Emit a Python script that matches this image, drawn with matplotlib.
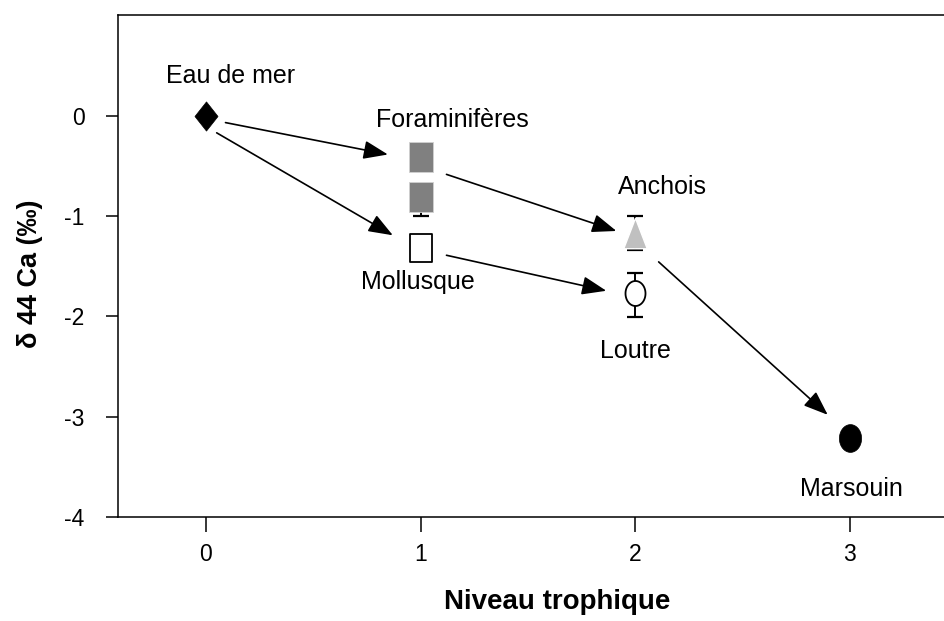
import matplotlib.pyplot as plt
from matplotlib.path import Path
import numpy as np

# values
groupes = ["Eau de mer", "Foraminifères", "Foraminifères", "Mollusque", "Anchois", "Loutre", "Marsouin"]
niveau = [0, 1, 1, 1, 2, 2, 3]
d44ca = [0.0, -0.41, -0.81, -1.32, -1.17, -1.77, -3.21]
err_bas = [0, 0, 0.19, 0, 0.17, 0.235, 0]
err_haut = [0, 0, 0, 0, 0.17, 0.20, 0]

# label text, position (niveau, d44ca)
etiquettes = [
    ("Eau de mer", 0.114, 0.39),
    ("Foraminifères", 1.15, -0.04),
    ("Mollusque", 0.99, -1.66),
    ("Anchois", 2.13, -0.71),
    ("Loutre", 2.0, -2.35),
    ("Marsouin", 3.01, -3.72),
]

# arrows: start (x, y) -> end (x, y)
fleches = [
    ((0.091, -0.07), (0.848, -0.388)),
    ((0.050, -0.172), (0.871, -1.193)),
    ((1.121, -0.586), (1.913, -1.150)),
    ((1.121, -1.392), (1.866, -1.746)),
    ((2.110, -1.458), (2.898, -2.982)),
]

plt.rcParams['font.family'] = ['Liberation Sans', 'DejaVu Sans']
plt.rcParams['axes.unicode_minus'] = False

# marker shapes (stretched a bit vertically like the reference)
losange = Path([(0, 1), (0.79, 0), (0, -1), (-0.79, 0), (0, 1)], closed=True)
rect = Path([(-0.79, -1), (0.79, -1), (0.79, 1), (-0.79, 1), (-0.79, -1)], closed=True)
tri = Path([(0, 1), (0.77, -1), (-0.77, -1), (0, 1)], closed=True)
t = np.linspace(0, 2 * np.pi, 60)
ellipse = Path(np.column_stack([0.8 * np.cos(t), np.sin(t)]), closed=True)

styles = [
    dict(marker=losange, ms=21, mfc="black", mec="black", mew=0.5),
    dict(marker=rect, ms=21, mfc="#808080", mec="#d0d0d0", mew=0.6),
    dict(marker=rect, ms=21, mfc="#808080", mec="#d0d0d0", mew=0.6),
    dict(marker=rect, ms=20, mfc="white", mec="black", mew=1.3),
    dict(marker=tri, ms=22, mfc="#c0c0c0", mec="white", mew=1.0),
    dict(marker=ellipse, ms=18, mfc="white", mec="black", mew=1.3),
    dict(marker=ellipse, ms=20, mfc="black", mec="black", mew=0.5),
]

fig = plt.figure(figsize=(9.44, 6.21), dpi=100)
ax = fig.add_axes([0.125, 0.1675, 0.875, 0.808])

for i in range(len(groupes)):
    if err_bas[i] or err_haut[i]:
        ax.errorbar(niveau[i], d44ca[i], yerr=[[err_bas[i]], [err_haut[i]]], fmt='none',
                    ecolor='black', elinewidth=1.4, capsize=6, capthick=1.6, zorder=2)
    ax.plot(niveau[i], d44ca[i], ls='none', zorder=3, **styles[i])

for (x0, y0), (x1, y1) in fleches:
    ax.annotate('', xy=(x1, y1), xytext=(x0, y0),
                arrowprops=dict(arrowstyle='-|>,head_length=1.0,head_width=0.38',
                                mutation_scale=15, color='black', lw=1.2,
                                shrinkA=0, shrinkB=0))

for texte, x, y in etiquettes:
    ax.text(x, y, texte, ha='center', va='center', fontsize=18)

ax.set_xlim(-0.41, 3.44)
ax.set_ylim(-4, 1)
ax.set_xticks([0, 1, 2, 3])
ax.set_yticks([-4, -3, -2, -1, 0])
ax.tick_params(axis='both', width=1.1, labelsize=16.5)
ax.tick_params(axis='x', length=11, pad=8)
ax.tick_params(axis='y', length=8.6, pad=15.5)
ax.spines['right'].set_visible(False)
for s in ['left', 'bottom', 'top']:
    ax.spines[s].set_linewidth(1.1)

fig.text(557 / 944, 1 - 609 / 621, "Niveau trophique", ha='center', va='baseline',
         fontsize=20, fontweight='bold')
fig.text(30 / 944, 1 - 274 / 621, "δ 44 Ca (‰)", ha='center', va='center',
         rotation=90, fontsize=19.5, fontweight='bold')

plt.savefig("out.png", dpi=100)
